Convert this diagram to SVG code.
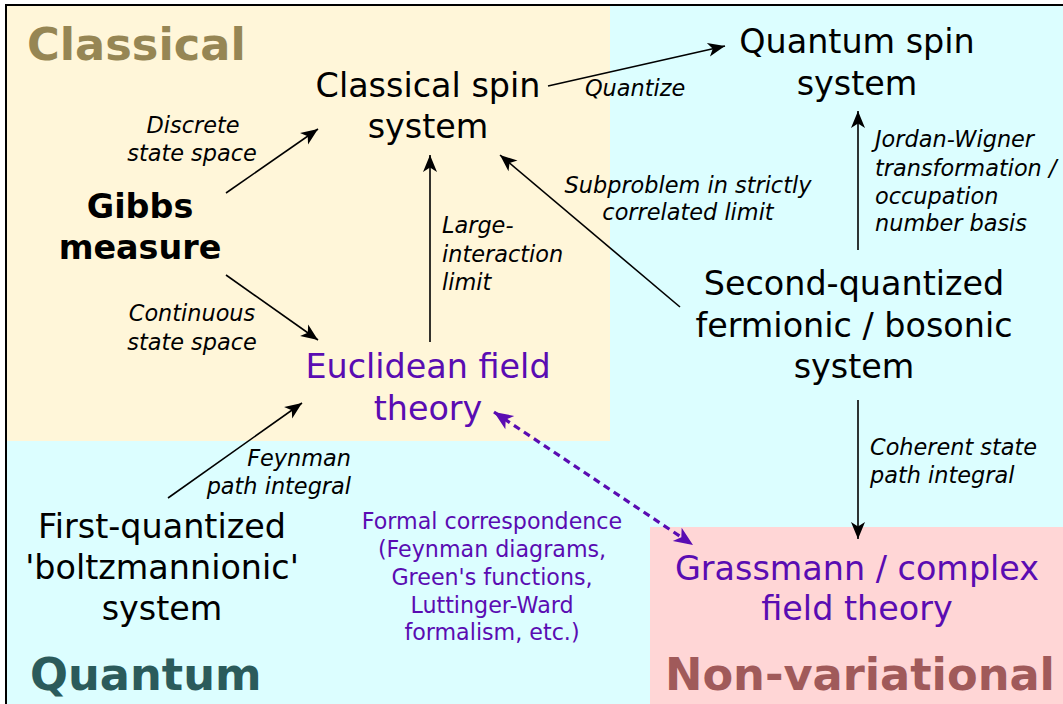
<svg xmlns="http://www.w3.org/2000/svg" width="1063" height="704" viewBox="0 0 1063 704">
<defs>
<style>
.node{font-family:"DejaVu Sans",sans-serif;font-size:33.4px;fill:#000;text-anchor:middle}
.purple{fill:#5a0cb2}
.bold{font-weight:bold}
.lbl{font-family:"DejaVu Sans",sans-serif;font-size:22.4px;font-style:italic;fill:#000}
.mid{text-anchor:middle}
.end{text-anchor:end}
.title{font-family:"DejaVu Sans",sans-serif;font-size:44.7px;font-weight:bold}
.formal{font-family:"DejaVu Sans",sans-serif;font-size:22.2px;fill:#5a0cb2;text-anchor:middle}
.conn{stroke:#000;stroke-width:1.6;fill:none;marker-end:url(#ah)}
.dash{stroke:#5a0cb2;stroke-width:3.2;fill:none;stroke-dasharray:7,5;marker-end:url(#ahp);marker-start:url(#ahps)}
</style>
<marker id="ah" viewBox="-18 -8 20 16" markerWidth="20" markerHeight="16" refX="0" refY="0" markerUnits="userSpaceOnUse" orient="auto">
<path d="M0,0 L-17,-7 L-12.5,0 L-17,7 Z" fill="#000"/>
</marker>
<marker id="ahp" viewBox="-20 -9 22 18" markerWidth="22" markerHeight="18" refX="0" refY="0" markerUnits="userSpaceOnUse" orient="auto">
<path d="M0,0 L-19,-8 L-14,0 L-19,8 Z" fill="#5a0cb2"/>
</marker>
<marker id="ahps" viewBox="-20 -9 22 18" markerWidth="22" markerHeight="18" refX="0" refY="0" markerUnits="userSpaceOnUse" orient="auto-start-reverse">
<path d="M0,0 L-19,-8 L-14,0 L-19,8 Z" fill="#5a0cb2"/>
</marker>
</defs>
<g id="background">
<rect x="6" y="5" width="1070" height="720" fill="#dcfeff" stroke="#000" stroke-width="2"/>
<rect x="7" y="6" width="603" height="435" fill="#fff6d9"/>
<rect x="650" y="527" width="420" height="190" fill="#ffd6d6"/>
<text class="title" x="27" y="60" fill="#968654">Classical</text>
<text class="title" x="30" y="690" fill="#2b5b5b">Quantum</text>
<text class="title" x="665" y="690" fill="#a05a5a">Non-variational</text>
</g>
<g id="connectors">
<line class="conn" x1="226" y1="193" x2="318" y2="129"/>
<line class="conn" x1="226" y1="275" x2="318" y2="340"/>
<line class="conn" x1="430" y1="342" x2="430" y2="155"/>
<line class="conn" x1="680" y1="307" x2="500" y2="155"/>
<line class="conn" x1="548" y1="86" x2="725" y2="46"/>
<line class="conn" x1="858" y1="250" x2="858" y2="111"/>
<line class="conn" x1="858" y1="400" x2="858" y2="539"/>
<line class="conn" x1="168" y1="498" x2="302" y2="403"/>
<line class="dash" x1="494" y1="412" x2="693" y2="545"/>
</g>
<g id="labels">
<text class="lbl mid" x="193" y="133">Discrete<tspan x="192" y="161">state space</tspan></text>
<text class="lbl mid" x="192" y="321">Continuous<tspan x="192" y="350">state space</tspan></text>
<text class="lbl" x="442" y="233">Large-<tspan x="442" y="262">interaction</tspan><tspan x="442" y="290">limit</tspan></text>
<text class="lbl" x="585" y="96">Quantize</text>
<text class="lbl mid" x="688" y="193">Subproblem in strictly<tspan x="688" y="220">correlated limit</tspan></text>
<text class="lbl" x="875" y="147">Jordan-Wigner<tspan x="875" y="176">transformation /</tspan><tspan x="875" y="204">occupation</tspan><tspan x="875" y="231">number basis</tspan></text>
<text class="lbl end" x="351" y="466">Feynman<tspan x="351" y="494">path integral</tspan></text>
<text class="lbl" x="870" y="455">Coherent state<tspan x="870" y="483">path integral</tspan></text>
<text class="formal" x="492" y="529">Formal correspondence<tspan x="492" y="557">(Feynman diagrams,</tspan><tspan x="492" y="585">Green's functions,</tspan><tspan x="492" y="613">Luttinger-Ward</tspan><tspan x="492" y="640">formalism, etc.)</tspan></text>
</g>
<g id="node-gibbs"><text class="node bold" x="140" y="218">Gibbs<tspan x="140" y="259">measure</tspan></text></g>
<g id="node-classical-spin"><text class="node" x="428" y="97">Classical spin<tspan x="428" y="138">system</tspan></text></g>
<g id="node-quantum-spin"><text class="node" x="857" y="53">Quantum spin<tspan x="857" y="95">system</tspan></text></g>
<g id="node-euclidean"><text class="node purple" x="428" y="378">Euclidean field<tspan x="428" y="420">theory</tspan></text></g>
<g id="node-second-quantized"><text class="node" x="854" y="295">Second-quantized<tspan x="854" y="337">fermionic / bosonic</tspan><tspan x="854" y="378">system</tspan></text></g>
<g id="node-first-quantized"><text class="node" x="162" y="538">First-quantized<tspan x="162" y="579">'boltzmannionic'</tspan><tspan x="162" y="620">system</tspan></text></g>
<g id="node-grassmann"><text class="node purple" x="857" y="580">Grassmann / complex<tspan x="857" y="620">field theory</tspan></text></g>
</svg>
